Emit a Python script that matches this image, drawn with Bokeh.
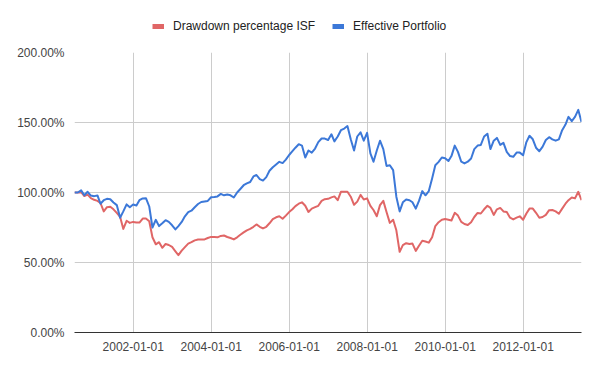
import calendar
from datetime import datetime
from bokeh.plotting import figure
from bokeh.layouts import column
from bokeh.models import (Range1d, FixedTicker, DatetimeTickFormatter, NumeralTickFormatter,
                          Legend, LegendItem, ColumnDataSource)
from bokeh.embed import file_html
from bokeh.resources import INLINE

# ---- data (monthly, percent of start value) ----
series_names = ["Drawdown percentage ISF", "Effective Portfolio"]
first_year, first_month = 2000, 6

drawdown_isf = [
    100, 100, 100.2, 97.5, 98.5, 96, 94.8, 94, 92.5, 86.5,
    89.5, 89.8, 88, 85.4, 82.6, 74, 79.8, 78.3, 79, 78.5,
    78.5, 81.4, 81.4, 79.5, 68, 63, 64.5, 60.5, 63.2, 62.5,
    61.1, 58, 55.3, 58.5, 61, 63.5, 64.5, 65.8, 66.4, 66.4,
    66.5, 67.5, 68.3, 68.2, 68, 69, 69.3, 68.2, 67.5, 66.5,
    68, 69.8, 71.5, 73, 74, 75.5, 77.2, 75.5, 74.3, 75.5,
    78, 81, 82.3, 83, 81.2, 83.5, 86, 88, 90.3, 92,
    93, 90.5, 86.1, 88.5, 89.5, 90.5, 94, 95.2, 95.5, 96.5,
    97.2, 94.5, 100.5, 100.5, 100.5, 97, 91.2, 93.5, 98.3, 95,
    95.8, 90.5, 87.5, 83, 91, 94, 86.1, 78.3, 80.5, 73,
    57.6, 62.4, 63.8, 63.2, 63.5, 58.3, 62, 65.5, 65, 64.2,
    68, 76, 78.8, 80.5, 81, 80.5, 80, 85.5, 83.5, 79,
    77.5, 76.8, 78.8, 82.5, 85.4, 85, 88, 90.5, 89, 84,
    88, 89, 86.5, 86, 82, 80.8, 82, 83, 80.5, 85,
    88.5, 88.5, 85.5, 82, 82.5, 84, 87.4, 87.5, 86.5, 84.8,
    88.5, 92, 94.5, 96.4, 95.8, 100.5, 94.5,
]

effective_portfolio = [
    100, 100, 101.5, 98, 100.5, 97.8, 97.4, 97.9, 92, 94.5,
    95.5, 95.2, 92.9, 91, 82, 86.5, 91.5, 89.5, 91.4, 90.7,
    94.5, 95.8, 95.9, 90, 75, 80.5, 76, 78, 80.2, 79,
    76.6, 73.6, 76, 79, 83, 86, 87, 89.5, 91.8, 93.2,
    93.6, 94, 96.6, 96.8, 97.2, 99, 98, 98.5, 98, 96.4,
    100, 102.5, 105.2, 106.5, 107.5, 111.5, 112.5, 109.5, 108.5, 111,
    115.5, 118, 120, 121.9, 121, 123.5, 126.8, 129.5, 132, 134.5,
    133.5, 125, 130, 128.5, 131.4, 136, 138.6, 138.5, 137.5, 141.6,
    136.5, 140, 144.5, 145.7, 147.5, 138, 130, 140, 143, 137,
    142.6, 128, 122, 130, 137, 131, 119, 119.5, 116, 97,
    86.5, 93, 95, 94.5, 93, 88.5, 94, 101, 98, 101,
    110, 119.5, 121.9, 125, 124.5, 122.5, 126, 133.5, 129, 122,
    120.8, 122, 124.3, 131, 133.5, 134, 140, 142, 131, 137,
    139, 134, 135.5, 129, 126, 125.5, 128.5, 128.5, 126.6, 136,
    140.5, 138, 132, 129.5, 132.6, 137.5, 139.5, 138, 137, 138,
    144.5, 148.5, 154, 151, 154, 159, 150.4,
]

x_tick_labels = ["2002-01-01", "2004-01-01", "2006-01-01", "2008-01-01", "2010-01-01", "2012-01-01"]
y_ticks_pct = [0, 50, 100, 150, 200]

RED = "#e06666"
BLUE = "#3c78d8"

# month-end dates
dates = []
yy, mm = first_year, first_month
for _ in range(len(effective_portfolio)):
    dates.append(datetime(yy, mm, calendar.monthrange(yy, mm)[1]))
    mm += 1
    if mm > 12:
        mm = 1
        yy += 1

src = ColumnDataSource(dict(
    x=dates,
    isf=[v / 100.0 for v in drawdown_isf],
    eff=[v / 100.0 for v in effective_portfolio],
))

epoch = datetime(1970, 1, 1)
tick_ms = [(datetime.strptime(s, "%Y-%m-%d") - epoch).total_seconds() * 1000.0 for s in x_tick_labels]

# ---- legend strip (its own small figure, legend inside its frame) ----
lg = figure(width=592, height=44, output_backend="svg", toolbar_location=None,
            x_range=Range1d(0, 1), y_range=Range1d(0, 1),
            x_axis_location=None, y_axis_location=None,
            min_border_left=0, min_border_right=0, min_border_top=0, min_border_bottom=0)
lg.outline_line_color = None
lg.grid.visible = False
nan = float("nan")
leg_red = lg.line(x=[nan], y=[nan], line_color=RED, line_width=5)
leg_blue = lg.line(x=[nan], y=[nan], line_color=BLUE, line_width=5)
legend = Legend(items=[LegendItem(label=series_names[0], renderers=[leg_red]),
                       LegendItem(label=series_names[1], renderers=[leg_blue])],
                orientation="horizontal", location=(78, 8),
                padding=0, margin=0, spacing=17, label_standoff=9,
                glyph_width=12, glyph_height=20,
                border_line_color=None, background_fill_alpha=0,
                label_text_font="Liberation Sans", label_text_font_size="12px",
                label_text_color="#222222")
lg.add_layout(legend)

# ---- main chart ----
p = figure(width=592, height=319, x_axis_type="datetime", output_backend="svg",
           toolbar_location=None,
           x_range=Range1d(dates[0], dates[-1]), y_range=Range1d(0, 2.0),
           min_border_left=74, min_border_right=11, min_border_top=8, min_border_bottom=31)
p.outline_line_color = None
p.background_fill_color = "white"
p.border_fill_color = "white"

fmt = "%Y-%m-%d"
p.xaxis.ticker = FixedTicker(ticks=tick_ms)
p.xaxis.formatter = DatetimeTickFormatter(years=fmt, months=fmt, days=fmt, hours=fmt,
                                          hourmin=fmt, minutes=fmt, minsec=fmt, seconds=fmt,
                                          milliseconds=fmt, microseconds=fmt)
p.yaxis.ticker = FixedTicker(ticks=[v / 100.0 for v in y_ticks_pct])
p.yaxis.formatter = NumeralTickFormatter(format="0.00%")

for ax in (p.xaxis[0], p.yaxis[0]):
    ax.major_tick_line_color = None
    ax.minor_tick_line_color = None
    ax.major_tick_out = 0
    ax.major_tick_in = 0
    ax.major_label_text_font = "Liberation Sans"
    ax.major_label_text_font_size = "12px"
    ax.major_label_text_color = "#444444"
p.yaxis.axis_line_color = None
p.xaxis.axis_line_color = "#333333"
p.xaxis.major_label_standoff = 9
p.yaxis.major_label_standoff = 10

p.grid.grid_line_color = "#cccccc"
p.grid.grid_line_width = 1

p.line("x", "isf", source=src, line_color=RED, line_width=2, line_join="round")
p.line("x", "eff", source=src, line_color=BLUE, line_width=2, line_join="round")

layout = column(lg, p, spacing=0)
open("out.html", "w").write(file_html(layout, INLINE))
